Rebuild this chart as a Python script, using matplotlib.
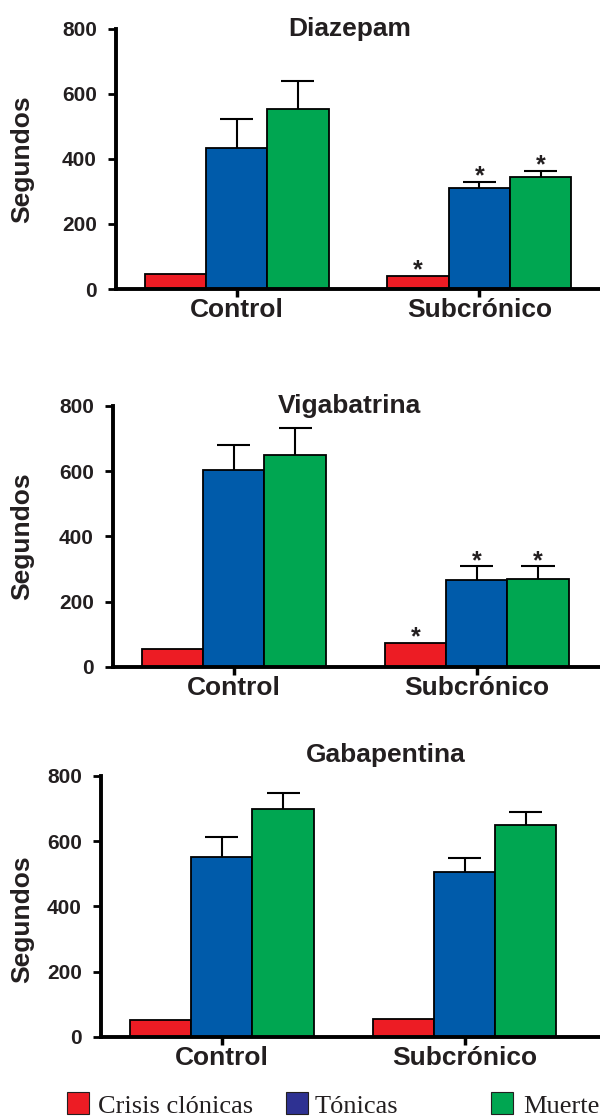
import matplotlib
matplotlib.use("Agg")
from matplotlib import pyplot as plt
from matplotlib.patches import Rectangle
from matplotlib.transforms import ScaledTranslation
import numpy as np

plt.rcParams['font.family'] = ['Liberation Sans', 'DejaVu Sans']

grupos = ['Control', 'Subcrónico']
series = ['Crisis clónicas', 'Tónicas', 'Muerte']
colores = ['#ED1C24', '#005BAA', '#00A651']
color_leyenda = ['#ED1C24', '#2E3192', '#00A651']

# medias (Control, Subcrónico) por serie
diazepam = [[45, 40], [434, 311], [555, 345]]
diazepam_err = [[0, 0], [90, 19], [86, 18]]
diazepam_sig = [[False, True], [False, True], [False, True]]

vigabatrina = [[56, 73], [603, 266], [651, 270]]
vigabatrina_err = [[0, 0], [77, 42], [80, 38]]
vigabatrina_sig = [[False, True], [False, True], [False, True]]

gabapentina = [[51, 55], [550, 504], [699, 649]]
gabapentina_err = [[0, 0], [64, 43], [49, 39]]
gabapentina_sig = [[False, False], [False, False], [False, False]]

yticks = [0, 200, 400, 600, 800]

fig = plt.figure(figsize=(6, 11.18), dpi=100)

# titulo, datos, rect, xmax, pos. titulo, desplaz. etiquetas x (px), pos. etiqueta y
paneles = [
    ("Diazepam", diazepam, diazepam_err, diazepam_sig, [0.1933, 0.7415, 0.8067, 0.2326], 7.9, (0.483, 1.0), (-3, 9), 0.5),
    ("Vigabatrina", vigabatrina, vigabatrina_err, vigabatrina_sig, [0.1883, 0.4034, 0.8117, 0.2335], 7.94, (0.486, 1.0), (3, 6), 0.5),
    ("Gabapentina", gabapentina, gabapentina_err, gabapentina_sig, [0.1683, 0.0725, 0.8317, 0.2335], 8.14, (0.571, 1.08), (9, 11), 0.45),
]

centros = np.array([1.97, 5.93])
ancho = 1.0

for titulo, medias, errores, sig, rect, xmax, tpos, desp, ylab in paneles:
    ax = fig.add_axes(rect)
    for i in range(3):
        x = centros + (i - 1) * ancho
        m = np.array(medias[i])
        e = np.array(errores[i])
        ax.bar(x, m, width=ancho, color=colores[i], edgecolor='black', linewidth=1.3, zorder=2)
        tiene = e > 0
        ax.vlines(x[tiene], m[tiene], m[tiene] + e[tiene], color='black', linewidth=1.5, zorder=1)
        ax.hlines(m[tiene] + e[tiene], x[tiene] - 0.27, x[tiene] + 0.27, color='black', linewidth=1.5, zorder=1)
        for j in range(2):
            if sig[i][j]:
                ax.annotate('*', xy=(x[j], m[j] + e[j]), xytext=(0, -1), textcoords='offset points',
                            ha='center', va='baseline', fontsize=18, fontweight='bold', color='#231F20')

    ax.set_xlim(0, xmax)
    ax.set_ylim(0, 800)
    ax.set_yticks(yticks)
    ax.set_xticks(centros)
    ax.set_xticklabels(grupos, fontsize=19, fontweight='bold', color='#231F20')
    for lab, d in zip(ax.get_xticklabels(), desp):
        lab.set_transform(lab.get_transform() + ScaledTranslation(d / 100, 0, fig.dpi_scale_trans))
    for lab in ax.get_yticklabels():
        lab.set_fontsize(15)
        lab.set_fontweight('bold')
        lab.set_color('#231F20')
    ax.get_yticklabels()[0].set_transform(
        ax.get_yticklabels()[0].get_transform() + ScaledTranslation(0, -0.09, fig.dpi_scale_trans))

    for s in ['top', 'right']:
        ax.spines[s].set_visible(False)
    for s in ['left', 'bottom']:
        ax.spines[s].set_linewidth(2.8)
        ax.spines[s].set_color('black')
    ax.tick_params(axis='y', direction='out', length=5.8, width=2, pad=8)
    ax.tick_params(axis='x', direction='out', length=5.8, width=2.5, pad=1)

    ax.set_ylabel('Segundos', fontsize=19, fontweight='bold', color='#231F20')
    ax.yaxis.set_label_coords((34 - rect[0] * 600) / (rect[2] * 600), ylab)
    ax.text(tpos[0], tpos[1], titulo, transform=ax.transAxes, ha='center', va='center',
            fontsize=19, fontweight='bold', color='#231F20')

# leyenda
cuadros = [67, 286, 491]
textos_x = [98, 315, 523]
for k in range(3):
    fig.patches.append(Rectangle((cuadros[k] / 600, (1118 - 1114) / 1118), 22 / 600, 22 / 1118,
                                 transform=fig.transFigure, facecolor=color_leyenda[k],
                                 edgecolor='#231F20', linewidth=0.8))
    fig.text(textos_x[k] / 600, (1118 - 1113) / 1118, series[k], family=['Liberation Serif', 'DejaVu Serif'],
             fontsize=19, color='#231F20', ha='left', va='baseline')

fig.savefig('out.png', dpi=100)
